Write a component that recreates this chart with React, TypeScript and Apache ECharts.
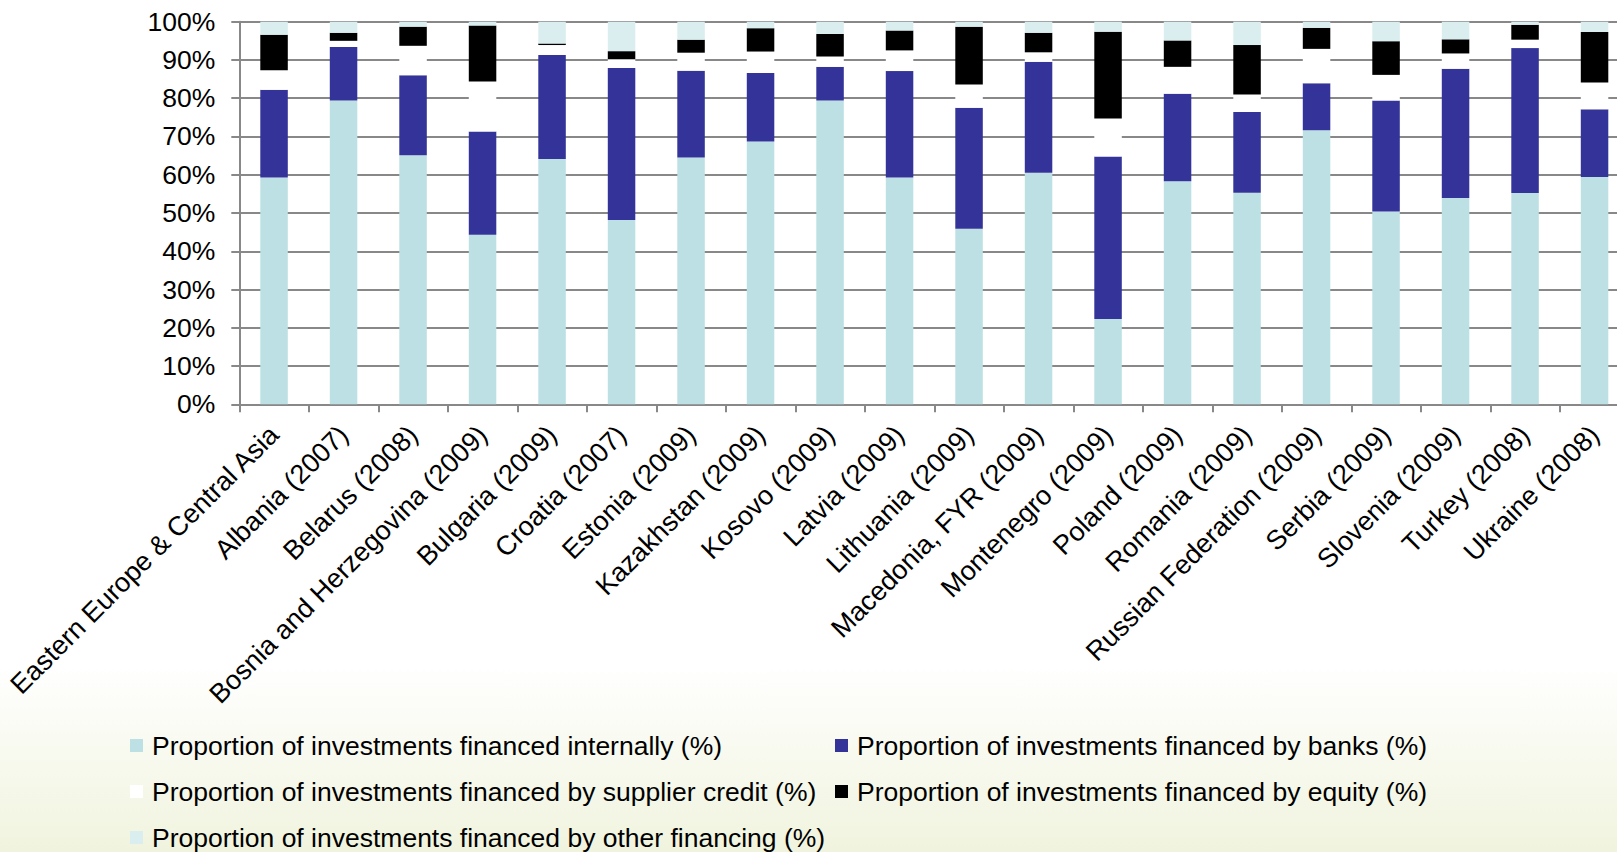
import React, { useEffect, useRef } from "react";
import * as echarts from "echarts";

const categories = [
  "Eastern Europe & Central Asia",
  "Albania (2007)",
  "Belarus (2008)",
  "Bosnia and Herzegovina (2009)",
  "Bulgaria (2009)",
  "Croatia (2007)",
  "Estonia (2009)",
  "Kazakhstan (2009)",
  "Kosovo (2009)",
  "Latvia (2009)",
  "Lithuania (2009)",
  "Macedonia, FYR (2009)",
  "Montenegro (2009)",
  "Poland (2009)",
  "Romania (2009)",
  "Russian Federation (2009)",
  "Serbia (2009)",
  "Slovenia (2009)",
  "Turkey (2008)",
  "Ukraine (2008)",
];

const internal = [59.3, 79.4, 65.1, 44.3, 64.1, 48.2, 64.5, 68.7, 79.4, 59.3, 45.9, 60.5, 22.3, 58.3, 55.3, 71.6, 50.4, 53.9, 55.2, 59.4];
const banks = [22.9, 14.0, 20.9, 27.0, 27.2, 39.7, 22.7, 17.9, 8.8, 27.8, 31.6, 29.0, 42.5, 22.9, 21.1, 12.3, 29.0, 33.8, 37.9, 17.7];
const supplier = [5.1, 1.6, 7.7, 13.1, 2.6, 2.3, 4.7, 5.6, 2.7, 5.4, 6.1, 2.5, 9.9, 7.0, 4.6, 9.0, 6.7, 4.0, 2.2, 7.0];
const equity = [9.3, 2.1, 5.0, 14.6, 0.4, 2.1, 3.4, 6.1, 5.9, 5.2, 15.1, 5.1, 22.7, 6.9, 12.9, 5.5, 8.8, 3.7, 3.9, 13.2];
const other = [3.4, 2.9, 1.3, 1.0, 5.7, 7.7, 4.7, 1.7, 3.2, 2.3, 1.3, 2.9, 2.6, 4.9, 6.1, 1.6, 5.1, 4.6, 0.8, 2.7];

const yTicks = [0, 10, 20, 30, 40, 50, 60, 70, 80, 90, 100];

const seriesNames = [
  "Proportion of investments financed internally (%)",
  "Proportion of investments financed by banks (%)",
  "Proportion of investments financed by supplier credit (%)",
  "Proportion of investments financed by equity (%)",
  "Proportion of investments financed by other financing (%)",
];
const seriesColors = ["#BCE0E3", "#333399", "#FFFFFF", "#000000", "#DAEEF0"];
const seriesData = [internal, banks, supplier, equity, other];

const FONT = "'Liberation Sans', Arial, Helvetica, sans-serif";

export default function App() {
  const ref = useRef<HTMLDivElement>(null);
  useEffect(() => {
    if (!ref.current) return;
    const chart = echarts.init(ref.current, null, { renderer: "svg" });
    const legendText = {
      fontFamily: FONT,
      fontSize: 26.5,
      color: "#000",
      lineHeight: 26,
      padding: [0, 0, 0, 4],
    };
    const legendBase = {
      orient: "vertical",
      top: 732,
      height: 200,
      padding: 0,
      itemWidth: 13,
      itemHeight: 13,
      itemGap: 19,
      icon: "rect",
      textStyle: legendText,
      selectedMode: false,
    };
    chart.setOption({
      animation: false,
      backgroundColor: "transparent",
      grid: { left: 239.3, top: 21.7, width: 1390, height: 382.6, containLabel: false },
      legend: [
        { ...legendBase, left: 130, data: [seriesNames[0], seriesNames[2], seriesNames[4]] },
        { ...legendBase, left: 835, data: [seriesNames[1], seriesNames[3]] },
      ],
      xAxis: {
        type: "category",
        data: categories,
        boundaryGap: true,
        axisLine: { show: true, lineStyle: { color: "#888888", width: 2 } },
        axisTick: { show: true, length: 8, lineStyle: { color: "#888888", width: 2 } },
        axisLabel: {
          interval: 0,
          rotate: 45,
          margin: 26,
          fontSize: 27,
          fontFamily: FONT,
          color: "#000",
        },
        splitLine: { show: false },
      },
      yAxis: {
        type: "value",
        min: yTicks[0],
        max: yTicks[yTicks.length - 1],
        interval: 10,
        axisLine: { show: true, lineStyle: { color: "#888888", width: 2 } },
        axisTick: { show: true, length: 8, lineStyle: { color: "#888888", width: 2 } },
        axisLabel: {
          formatter: "{value}%",
          margin: 24,
          fontSize: 26.5,
          fontFamily: FONT,
          color: "#000",
        },
        splitLine: { show: true, lineStyle: { color: "#888888", width: 2 } },
      },
      series: seriesNames.map((name, i) => ({
        name,
        type: "bar",
        stack: "total",
        barWidth: 27.5,
        data: seriesData[i],
        itemStyle: { color: seriesColors[i] },
        emphasis: { disabled: true },
      })),
    });
    return () => chart.dispose();
  }, []);
  return (
    <div
      style={{
        position: "absolute",
        left: 0,
        top: 0,
        width: 1617,
        height: 852,
        overflow: "hidden",
        background: "linear-gradient(to bottom, #FFFFFF 0%, #FFFFFF 78%, #F0F4DE 100%)",
      }}
    >
      <div ref={ref} style={{ position: "absolute", left: 0, top: 0, width: 1660, height: 852 }} />
    </div>
  );
}
